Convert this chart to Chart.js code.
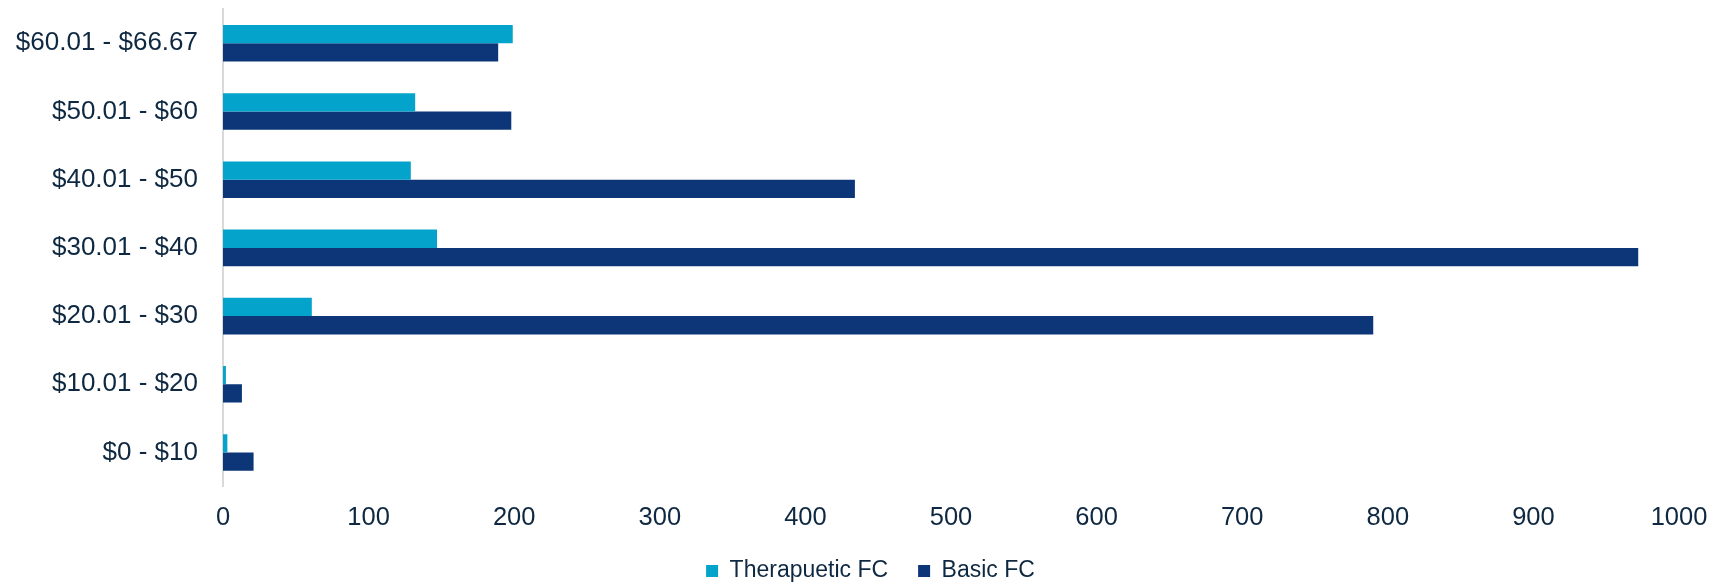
<!DOCTYPE html>
<html>
<head>
<meta charset="utf-8">
<script src="https://cdn.jsdelivr.net/npm/chart.js@4/dist/chart.umd.min.js"></script>
<style>
  html, body { margin: 0; padding: 0; background: #ffffff; }
  #wrap { width: 1725px; height: 583px; position: relative; }
</style>
</head>
<body>
<div id="wrap"><canvas id="c" width="1725" height="583"></canvas></div>
<script>
const categories = ['$60.01 - $66.67', '$50.01 - $60', '$40.01 - $50', '$30.01 - $40', '$20.01 - $30', '$10.01 - $20', '$0 - $10'];
const therapeuticFC = [199, 132, 129, 147, 61, 2, 3];
const basicFC = [189, 198, 434, 972, 790, 13, 21];
const xTicks = [0, 100, 200, 300, 400, 500, 600, 700, 800, 900, 1000];

const textColor = '#0E2841';
const fontFamily = '"Liberation Sans", Arial, sans-serif';

const layoutTweak = {
  id: 'layoutTweak',
  afterLayout(chart) {
    const l = chart.legend;
    const dx = 31, dy = 9.5;
    l.left += dx; l.right += dx;
    l.top += dy; l.bottom += dy;
    // let the x tick labels extend below the reserved axis box without being clipped
    chart.scales.x.bottom += 25;
  }
};

new Chart(document.getElementById('c'), {
  type: 'bar',
  data: {
    labels: categories,
    datasets: [
      { label: 'Therapuetic FC', data: therapeuticFC, backgroundColor: '#04A3CB', borderWidth: 0 },
      { label: 'Basic FC', data: basicFC, backgroundColor: '#0D3678', borderWidth: 0 }
    ]
  },
  plugins: [layoutTweak],
  options: {
    indexAxis: 'y',
    responsive: false,
    animation: false,
    devicePixelRatio: 1,
    categoryPercentage: 0.537,
    barPercentage: 1.0,
    layout: { padding: { left: 0, right: 46, top: 9.2, bottom: 0 } },
    plugins: {
      tooltip: { enabled: false },
      legend: {
        position: 'bottom',
        labels: {
          color: textColor,
          font: { family: fontFamily, size: 23 },
          boxWidth: 12,
          boxHeight: 12,
          padding: 30
        }
      }
    },
    scales: {
      x: {
        min: 0,
        max: 1000,
        afterBuildTicks: (s) => { s.ticks = xTicks.map(v => ({ value: v })); },
        grid: { display: false, drawTicks: true, tickLength: 16 },
        border: { display: false },
        ticks: { color: textColor, font: { family: fontFamily, size: 25.5 }, padding: 0, maxRotation: 0,
                 callback: (v) => String(v) },
        afterFit: (s) => { s.height = 33.4; }
      },
      y: {
        grid: { display: false, drawTicks: true, tickLength: 25 },
        border: { display: true, color: '#D9D9D9', width: 2 },
        ticks: { color: textColor, font: { family: fontFamily, size: 26, lineHeight: 0.7 }, padding: 0 },
        afterFit: (s) => { s.width = 223; }
      }
    }
  }
});
</script>
</body>
</html>
